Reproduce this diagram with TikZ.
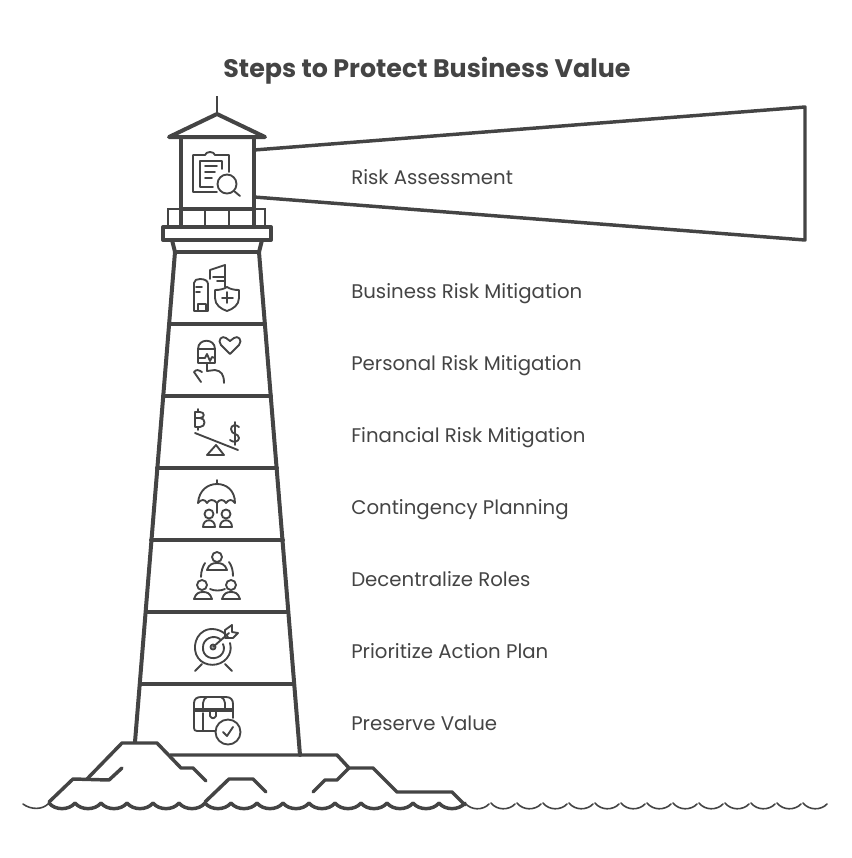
\documentclass[tikz,border=0pt]{standalone}
\usepackage{fontspec}
\setmainfont{Poppins}
\definecolor{inkgray}{HTML}{444444}
\tikzset{
    wall/.style = {draw = inkgray, line width = 3pt, line cap = round, line join = round},
    beamline/.style = {draw = inkgray, line width = 2.6pt, line cap = round, line join = round},
    rail/.style = {draw = inkgray, line width = 1.2pt},
    rock/.style = {draw = inkgray, line width = 2.6pt, line cap = round, line join = round},
    swell/.style = {draw = inkgray, line width = 2.6pt, line cap = round},
    ripple/.style = {draw = inkgray, line width = 1.2pt, line cap = round},
    icon/.style = {draw = inkgray, line width = 1.4pt, line cap = round, line join = round},
    steplabel/.style = {anchor = west, text = inkgray, inner sep = 0pt, text height = 11pt, text depth = 3pt, font = \fontsize{14.8}{18}\selectfont}
}
\begin{document}
\begin{tikzpicture}[x = 0.75pt, y = -0.75pt]
    \useasboundingbox (0,0) rectangle (851,858);
    \node[anchor = center, text = inkgray, inner sep = 0pt, font = \fontsize{19}{23}\selectfont\bfseries] (title) at (427,71) {Steps to Protect Business Value};
    % beam
    \draw[beamline] (254,150) -- (805,107) -- (805,240) -- (254,197);
    % lantern room
    \draw[style = rail] (217,96) -- (217,113);
    \draw[wall] (169,137) -- (217,114) -- (265,137) -- cycle;
    \draw[rail] (181,209) -- (168,209) -- (168,227);
    \draw[rail] (254,209) -- (265,209) -- (265,227);
    \draw[rail] (205,210) -- (205,227);
    \draw[rail] (229,210) -- (229,227);
    \draw[wall] (181,137) -- (181,227);
    \draw[wall] (254,137) -- (254,227);
    \draw[wall] (181,209) -- (254,209);
    \draw[wall] (163,227) -- (271,227) -- (271,240) -- (163,240) -- cycle;
    % tower
    \draw[wall] (172,240) -- (175,252) -- (135,742);
    \draw[wall] (262,240) -- (259,252) -- (300,755);
    \draw[wall] (175,252) -- (259,252);
    \draw[wall] (169,324) -- (265,324);
    \draw[wall] (163,396) -- (271,396);
    \draw[wall] (157,468) -- (277,468);
    \draw[wall] (151,540) -- (283,540);
    \draw[wall] (146,612) -- (288,612);
    \draw[wall] (140,684) -- (294,684);
    % rocks
    \draw[rock] (49,802) -- (73,779) -- (109,780) -- (122,768);
    \draw[rock] (87,779) -- (122,743) -- (157,743) -- (181,768) -- (193,768) -- (206,781);
    \draw[rock] (205,802) -- (229,779) -- (253,779) -- (266,792);
    \draw[rock] (170,755) -- (337,755) -- (349,768) -- (373,768) -- (397,792) -- (452,792) -- (465,805);
    \draw[rock] (349,768) -- (337,780) -- (325,780) -- (313,792);
    % water
    \draw[ripple] (23,804) .. controls (31,810) and (43,810) .. (49,803);
    \foreach \x in {49,75,...,439} {
        \draw[swell] (\x,803) .. controls (\x+6,810.5) and (\x+20,810.5) .. (\x+26,803);
    }
    \foreach \x in {465,491,...,803} {
        \draw[ripple] (\x,803) .. controls (\x+6,810.5) and (\x+18,810.5) .. (\x+24,804);
    }
    % risk assessment icon
    \begin{scope}[style = icon]
        \draw (217,192) -- (193,192) -- (193,155) -- (205,155) .. controls (206,151) and (214,151) .. (215,155) -- (229,155) -- (229,172);
        \draw (213,187) -- (200,187) -- (200,161) -- (222,161) -- (222,169);
        \draw (205,166) -- (217,166);
        \draw (205,172) -- (215,172);
        \draw (205,178) -- (212,178);
        \draw (227,184) circle (9.5);
        \draw (234,191) -- (240,196);
    \end{scope}
    % business icon
    \begin{scope}[style = icon]
        \draw (208,311) -- (194,311) -- (194,283) .. controls (194,280) and (197,279) .. (200,279) .. controls (205,279) and (208,281) .. (208,284) -- (208,311);
        \draw (198,311) -- (198,304) -- (206,304) -- (206,311);
        \draw (196,287) -- (202,287);
        \draw (196,292) -- (200,292);
        \draw (210,279) -- (210,270) -- (225,265) -- (225,287);
        \draw (213,277) -- (225,277);
        \draw (217,281) -- (225,281);
        \draw (215,290) .. controls (220,290) and (224,289) .. (227,287) .. controls (230,289) and (234,290) .. (239,290) -- (239,298) .. controls (239,305) and (233,309) .. (227,311) .. controls (221,309) and (215,305) .. (215,298) -- cycle;
        \draw (227,292) -- (227,303);
        \draw (222,298) -- (233,298);
    \end{scope}
    % personal icon
    \begin{scope}[style = icon]
        \draw (198,363) -- (198,349) .. controls (198,338) and (215,338) .. (215,349) -- (215,363) -- cycle;
        \draw (198,349) -- (215,349);
        \draw (199,358) -- (205,358) -- (207,354) -- (210,361) -- (212,357) -- (215,358);
        \draw (207,363) -- (207,371) -- (215,370) .. controls (221,371) and (224,374) .. (224,383);
        \draw (202,372) .. controls (199,370) and (196,369) .. (194,372) -- (201,382);
        \draw (230,354) -- (221,345) .. controls (217,340) and (222,335) .. (226,338) -- (230,341) -- (234,338) .. controls (238,335) and (243,340) .. (239,345) -- cycle;
    \end{scope}
    % financial icon
    \begin{scope}[style = icon]
        \draw (195,412) -- (195,427) -- (200,427) .. controls (206,427) and (206,418) .. (200,418) -- (195,418);
        \draw (195,412) -- (200,412) .. controls (205,412) and (205,418) .. (200,418);
        \draw (198,409) -- (198,412);
        \draw (198,427) -- (198,430);
        \draw (239,427) .. controls (236,424) and (231,425) .. (231,429) .. controls (231,435) and (239,433) .. (239,438) .. controls (239,442) and (233,443) .. (230,440);
        \draw (235,422) -- (235,445);
        \draw (195,433) -- (238,450);
        \draw (216,445) -- (224,455) -- (207,455) -- cycle;
    \end{scope}
    % contingency icon
    \begin{scope}[style = icon]
        \draw (217,480) -- (217,484);
        \draw (198,503) .. controls (199,490) and (208,484) .. (217,484) .. controls (226,484) and (235,490) .. (235,503);
        \draw (198,503) .. controls (201,499) and (205,499) .. (207,503) .. controls (209,499) and (214,499) .. (217,503) .. controls (219,499) and (224,499) .. (226,503) .. controls (229,499) and (232,499) .. (235,503);
        \draw (217,503) -- (217,513);
        \draw (209,514) circle (4.5);
        \draw (226,514) circle (4.5);
        \draw (203,527) .. controls (203,518) and (215,518) .. (215,527) -- cycle;
        \draw (220,527) .. controls (220,518) and (232,518) .. (232,527) -- cycle;
    \end{scope}
    % decentralize icon
    \begin{scope}[style = icon]
        \draw (217,557) circle (5);
        \draw (207,570) .. controls (209,564) and (213,563) .. (217,563) .. controls (221,563) and (225,564) .. (227,570) -- cycle;
        \draw (202,585) circle (5);
        \draw (194,599) .. controls (196,593) and (199,592) .. (203,592) .. controls (207,592) and (210,593) .. (212,599) -- cycle;
        \draw (231,585) circle (5);
        \draw (222,599) .. controls (224,593) and (227,592) .. (231,592) .. controls (235,592) and (238,593) .. (240,599) -- cycle;
        \draw (201,577) .. controls (201,571) and (203,566) .. (205,563);
        \draw (229,562) .. controls (232,566) and (233,571) .. (233,576);
        \draw (210,589) .. controls (214,591) and (221,591) .. (225,589);
    \end{scope}
    % prioritize icon
    \begin{scope}[style = icon]
        \draw (228,637) .. controls (222,629) and (211,627) .. (204,631) .. controls (193,637) and (192,654) .. (201,661) .. controls (210,668) and (224,665) .. (229,655) .. controls (231,651) and (231,647) .. (230,643);
        \draw (220,639) .. controls (213,634) and (203,639) .. (203,647) .. controls (202,657) and (213,661) .. (220,656) .. controls (224,653) and (225,648) .. (223,644);
        \draw (213,647) circle (2.5);
        \draw (213,647) -- (229,633);
        \draw (225,638) -- (225,630) -- (232,625) -- (232,632) -- (238,633) -- (233,638) -- (225,638);
        \draw (202,664) -- (195,671);
        \draw (225,664) -- (232,671);
    \end{scope}
    % preserve icon
    \begin{scope}[style = icon]
        \draw (215,731) -- (197,731) .. controls (195,731) and (194,730) .. (194,728) -- (194,703) .. controls (194,699) and (197,697) .. (201,697) -- (226,697) .. controls (231,697) and (233,700) .. (233,704) -- (233,718);
        \draw (194,711) -- (233,711);
        \draw (194,709) -- (233,709);
        \draw (203,709) -- (203,703) .. controls (203,700) and (205,698) .. (207,697);
        \draw (225,709) -- (225,703) .. controls (225,700) and (223,698) .. (221,697);
        \draw (203,713) -- (203,731);
        \draw (210,711) -- (210,716) .. controls (212,719) and (214,719) .. (216,716) -- (216,711);
        \draw (228,732) circle (12.5);
        \draw (223,732) -- (227,736) -- (233,727);
    \end{scope}
    % labels
    \node[steplabel] (assess) at (351,179) {Risk Assessment};
    \node[steplabel] (business) at (351,293) {Business Risk Mitigation};
    \node[steplabel] (personal) at (351,365) {Personal Risk Mitigation};
    \node[steplabel] (financial) at (351,437) {Financial Risk Mitigation};
    \node[steplabel] (contingency) at (351,509) {Contingency Planning};
    \node[steplabel] (decentral) at (351,581) {Decentralize Roles};
    \node[steplabel] (prioritize) at (351,653) {Prioritize Action Plan};
    \node[steplabel] (preserve) at (351,725) {Preserve Value};
\end{tikzpicture}
\end{document}
